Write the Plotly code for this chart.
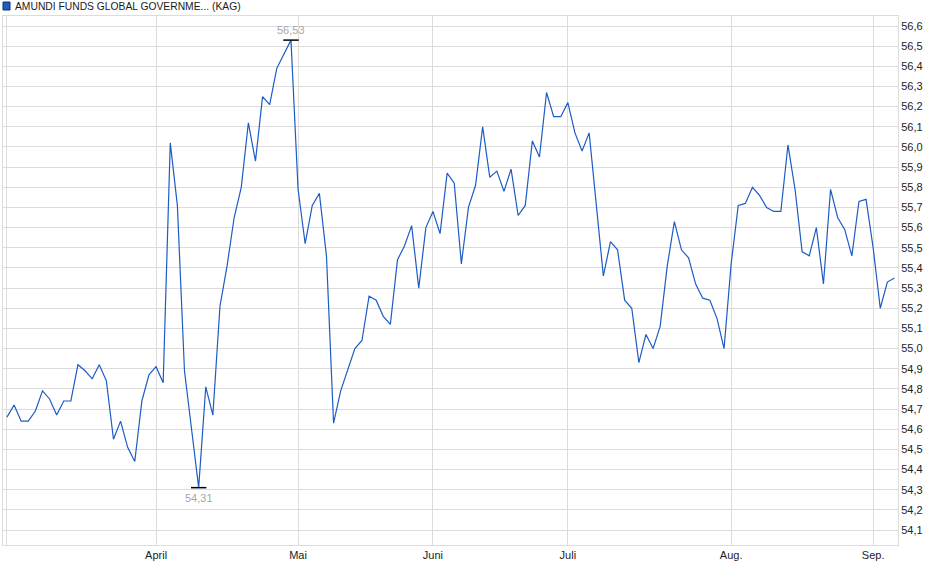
import plotly.graph_objects as go

fund_name = "AMUNDI FUNDS GLOBAL GOVERNME... (KAG)"

# daily prices (one value per trading day)
prices = [
    54.66, 54.72, 54.64, 54.64, 54.69, 54.79, 54.75, 54.67, 54.74, 54.74,
    54.92, 54.89, 54.85, 54.92, 54.84, 54.55, 54.64, 54.51, 54.44, 54.74,
    54.87, 54.91, 54.83, 56.02, 55.71, 54.89, 54.60, 54.31, 54.81, 54.67,
    55.21, 55.41, 55.65, 55.80, 56.12, 55.93, 56.25, 56.21, 56.39, 56.46,
    56.53, 55.79, 55.52, 55.71, 55.77, 55.46, 54.63, 54.79, 54.89, 55.00,
    55.04, 55.26, 55.24, 55.16, 55.12, 55.44, 55.51, 55.61, 55.30, 55.60,
    55.68, 55.57, 55.87, 55.82, 55.42, 55.70, 55.81, 56.10, 55.85, 55.88,
    55.78, 55.89, 55.66, 55.71, 56.03, 55.95, 56.27, 56.15, 56.15, 56.22,
    56.07, 55.98, 56.07, 55.72, 55.36, 55.53, 55.49, 55.24, 55.20, 54.93,
    55.07, 55.00, 55.11, 55.41, 55.63, 55.49, 55.45, 55.32, 55.25, 55.24,
    55.15, 55.00, 55.42, 55.71, 55.72, 55.80, 55.76, 55.70, 55.68, 55.68,
    56.01, 55.79, 55.48, 55.46, 55.60, 55.32, 55.79, 55.65, 55.59, 55.46,
    55.73, 55.74, 55.50, 55.20, 55.33, 55.35,
]

# first trading day of each month (index into prices) and its label
month_starts = [21, 41, 60, 79, 102, 122]
month_labels = ["April", "Mai", "Juni", "Juli", "Aug.", "Sep."]

days = list(range(len(prices)))
i_max = prices.index(max(prices))
i_min = prices.index(min(prices))


def fmt(v):
    return f"{v:.2f}".replace(".", ",")


fig = go.Figure()
fig.add_trace(go.Scatter(
    x=days, y=prices, mode="lines",
    line=dict(color="#1c5cc4", width=1.2),
    hoverinfo="skip",
))
fig.add_trace(go.Scatter(
    x=[i_max, i_min], y=[prices[i_max], prices[i_min]], mode="markers",
    marker=dict(symbol="line-ew", size=11, line=dict(color="black", width=1.5)),
    hoverinfo="skip",
))

fig.add_annotation(x=i_max, y=prices[i_max], text=fmt(prices[i_max]),
                   showarrow=False, yanchor="bottom", yshift=2,
                   font=dict(size=11, color="#a6a6a6"))
fig.add_annotation(x=i_min, y=prices[i_min], text=fmt(prices[i_min]),
                   showarrow=False, yanchor="top", yshift=-2,
                   font=dict(size=11, color="#a6a6a6"))

# legend-like header
fig.add_shape(type="rect", xref="paper", yref="paper",
              x0=0.0, x1=7 / 895, y0=1 + 6 / 529, y1=1 + 14 / 529,
              fillcolor="#1c5cc4", line=dict(color="#0f2f6e", width=1))
fig.add_annotation(x=10 / 895, y=1 + 10 / 529, xref="paper", yref="paper",
                   text=fund_name, showarrow=False, xanchor="left", yanchor="middle",
                   font=dict(size=10.3, color="#1a1a1a"))

fig.update_layout(
    width=940, height=579,
    margin=dict(l=3, r=42, t=16, b=34),
    paper_bgcolor="white", plot_bgcolor="white",
    showlegend=False,
    separators=",.",
    font=dict(family="Liberation Sans, Arial, sans-serif", size=11, color="#222222"),
    xaxis=dict(
        range=[-0.56, 125.5],
        tickvals=[0] + month_starts,
        ticktext=[""] + month_labels,
        showgrid=True, gridcolor="#dcdcdc", gridwidth=1,
        showline=True, linecolor="#dcdcdc", mirror=True,
        ticks="", zeroline=False,
        tickfont=dict(size=11, color="#222222"),
    ),
    yaxis=dict(
        side="right",
        range=[54.0256, 56.6496],
        tick0=54.1, dtick=0.1, tickformat=".1f",
        showgrid=True, gridcolor="#dcdcdc", gridwidth=1,
        showline=True, linecolor="#dcdcdc", mirror=True,
        ticks="", zeroline=False,
        tickfont=dict(size=11, color="#222222"),
    ),
)

# page body has a default 8px margin; drop it so the figure sits at the corner
fig.write_html("out.html", config={"displayModeBar": False},
               post_script="document.body.style.margin='0';")
